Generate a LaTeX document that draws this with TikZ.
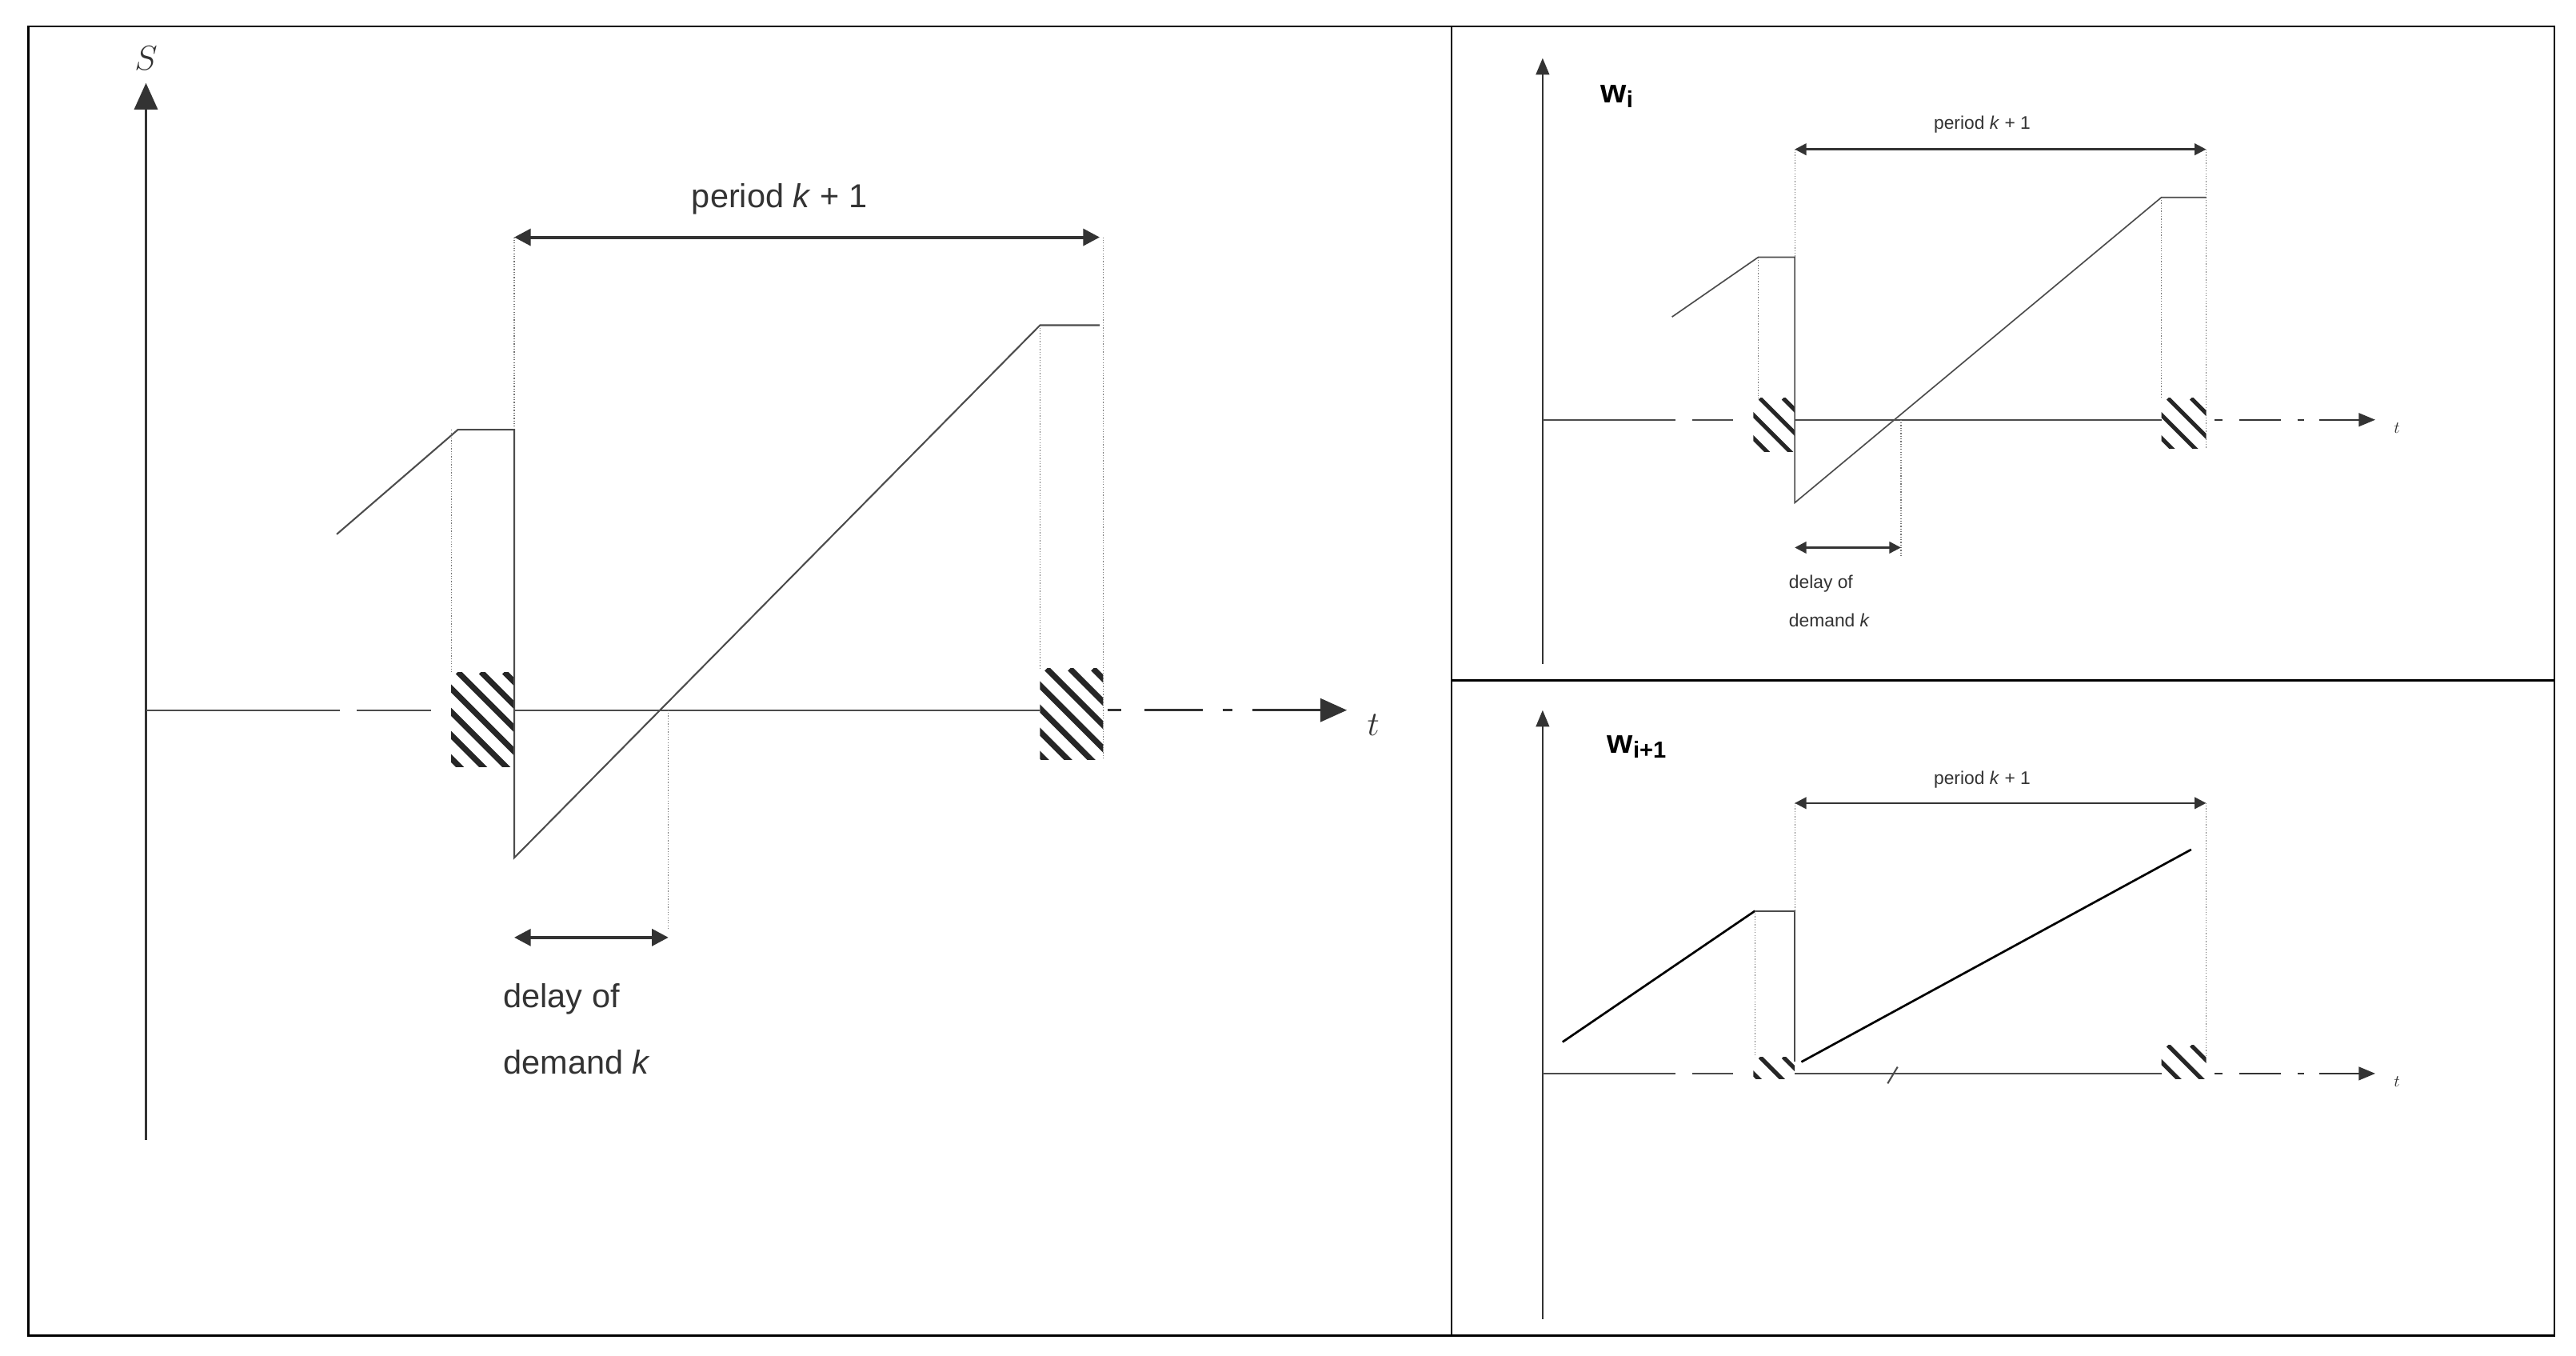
\documentclass[tikz,border=0pt]{standalone}
\usepackage{fontspec}
\setmainfont{Liberation Sans}
\usepackage{tikz}
\usetikzlibrary{arrows.meta, calc}

\tikzset{
  axis/.style={line width=1.6pt, draw=black!80},
  curve/.style={line width=1pt, draw=black!70},
  guide/.style={densely dotted, line width=0.6pt, draw=black!55},
  span/.style={line width=2pt, draw=black!80, {Triangle[length=10pt,width=10pt]}-{Triangle[length=10pt,width=10pt]}},
  spansmall/.style={line width=1.2pt, draw=black!80, {Triangle[length=7pt,width=7pt]}-{Triangle[length=7pt,width=7pt]}},
  bigtxt/.style={font=\fontsize{20}{24}\selectfont, text=black!80},
  smalltxt/.style={font=\fontsize{11}{13}\selectfont, text=black!80},
}
% hatched block between two corners
\newcommand{\hatchblock}[5]{%
  \begin{scope}
    \clip (#1,#2) rectangle (#3,#4);
    \foreach \k in {-80,-66,...,80}
      \draw[line width=#5, black!85] ($(#1,#2)+(\k,0)$) -- ++(60,60);
  \end{scope}}

\begin{document}
\begin{tikzpicture}[x=1pt,y=-1pt]
        \useasboundingbox (0,0) rectangle (1553,817);
        % frames
        \draw[line width=1.2pt] (17,16) rectangle (1540,805);
        \draw[line width=1.2pt] (875,16) -- (875,805);
        \draw[line width=1.2pt] (875,410) -- (1540,410);

        %% left panel
        \draw[axis, -{Triangle[length=16pt,width=14pt]}] (88,687) -- (88,50);
        \node[bigtxt, font=\fontsize{22}{24}\selectfont\itshape\rmfamily] (S) at (88,35) {$S$};
        \draw[curve] (88,428) -- (205,428) (215,428) -- (260,428);
        \draw[curve] (310,428) -- (627,428);
        \draw[axis] (668,428) -- (676,428) (690,428) -- (725,428) (737,428) -- (743,428);
        \draw[axis, -{Triangle[length=16pt,width=14pt]}] (755,428) -- (812,428);
        \node[bigtxt, font=\fontsize{20}{24}\selectfont\itshape\rmfamily] (tL) at (828,437) {$t$};
        \hatchblock{272}{405}{310}{462}{3.5pt}
        \hatchblock{627}{403}{665}{458}{3.5pt}
        \draw[guide] (272,259) -- (272,405) (310,143) -- (310,259) (403,428) -- (403,560)
                     (627,196) -- (627,403) (665,143) -- (665,458);
        \draw[curve] (203,322) -- (276,259) -- (310,259) -- (310,517) -- (627,196) -- (663,196);
        \draw[span] (310,143) -- (663,143);
        \node[bigtxt] (perL) at (470,120) {period \textit{k} + 1};
        \draw[span] (310,565) -- (403,565);
        \node[bigtxt, anchor=west] (dL1) at (300,602) {delay of};
        \node[bigtxt, anchor=west] (dL2) at (300,640) {demand \textit{k}};

        %% top right panel
        \draw[axis, line width=1.2pt, -{Triangle[length=10pt,width=8pt]}] (930,400) -- (930,35);
        \node[font=\fontsize{20}{22}\selectfont\bfseries] (Wi) at (975,58) {w\textsubscript{i}};
        \draw[curve] (930,253) -- (1010,253) (1020,253) -- (1045,253) (1082,253) -- (1303,253);
        \draw[axis, line width=1.2pt] (1335,253) -- (1340,253) (1350,253) -- (1375,253) (1385,253) -- (1389,253);
        \draw[axis, line width=1.2pt, -{Triangle[length=10pt,width=8pt]}] (1398,253) -- (1432,253);
        \node[smalltxt, font=\fontsize{10}{12}\selectfont\itshape\rmfamily] (tA) at (1445,258) {$t$};
        \hatchblock{1057}{240}{1082}{272}{2.5pt}
        \hatchblock{1303}{240}{1330}{270}{2.5pt}
        \draw[guide] (1060,155) -- (1060,240) (1082,90) -- (1082,155) (1146,253) -- (1146,335)
                     (1303,119) -- (1303,240) (1330,90) -- (1330,270);
        \draw[curve, line width=0.8pt] (1008,191) -- (1060,155) -- (1082,155) -- (1082,303) -- (1303,119) -- (1330,119);
        \draw[spansmall] (1082,90) -- (1330,90);
        \node[smalltxt] (perA) at (1195,75) {period \textit{k} + 1};
        \draw[spansmall] (1082,330) -- (1146,330);
        \node[smalltxt, anchor=west] (dA1) at (1075,352) {delay of};
        \node[smalltxt, anchor=west] (dA2) at (1075,374) {demand \textit{k}};

        %% bottom right panel
        \draw[axis, line width=1.2pt, -{Triangle[length=10pt,width=8pt]}] (930,795) -- (930,428);
        \node[font=\fontsize{20}{22}\selectfont\bfseries] (Wn) at (987,450) {w\textsubscript{i+1}};
        \draw[curve] (930,647) -- (1010,647) (1020,647) -- (1045,647) (1082,647) -- (1303,647);
        \draw[curve] (1138,653) -- (1144,643);
        \draw[axis, line width=1.2pt] (1335,647) -- (1340,647) (1350,647) -- (1375,647) (1385,647) -- (1389,647);
        \draw[axis, line width=1.2pt, -{Triangle[length=10pt,width=8pt]}] (1398,647) -- (1432,647);
        \node[smalltxt, font=\fontsize{10}{12}\selectfont\itshape\rmfamily] (tB) at (1445,652) {$t$};
        \hatchblock{1057}{637}{1082}{650}{2.5pt}
        \hatchblock{1303}{630}{1330}{650}{2.5pt}
        \draw[guide] (1058,549) -- (1058,637) (1082,484) -- (1082,549) (1330,484) -- (1330,640);
        \draw[line width=1.3pt] (942,628) -- (1058,549);
        \draw[curve, line width=0.8pt] (1058,549) -- (1082,549) -- (1082,640);
        \draw[line width=1.3pt] (1086,640) -- (1321,512);
        \draw[spansmall] (1082,484) -- (1330,484);
        \node[smalltxt] (perB) at (1195,470) {period \textit{k} + 1};
\end{tikzpicture}
\end{document}
